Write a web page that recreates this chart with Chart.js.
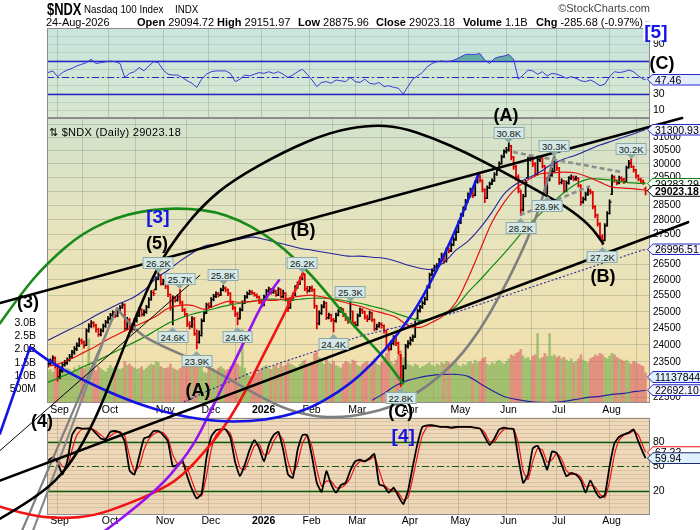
<!DOCTYPE html>
<html><head><meta charset="utf-8"><title>$NDX Nasdaq 100 Index</title>
<script src="https://cdn.jsdelivr.net/npm/chart.js@4.4.1/dist/chart.umd.min.js"></script>
<style>
html,body{margin:0;padding:0;background:#fff;}
#wrap{position:relative;width:700px;height:530px;overflow:hidden;font-family:"Liberation Sans",Arial,Helvetica,sans-serif;color:#000;}
#wrap canvas{position:absolute;left:0;top:0;}
#c1{z-index:1}#c3{z-index:1}#c2{z-index:2}
.t{position:absolute;white-space:nowrap;z-index:5;line-height:1;}
.ew{position:absolute;z-index:6;transform:translate(-50%,-50%);font-weight:bold;font-size:18px;line-height:1;white-space:nowrap;}
.co{position:absolute;z-index:6;transform:translate(-50%,-50%);font-size:9.5px;line-height:9px;padding:1px 2px 0 2px;background:#d6e8e6;border:1px solid #8eaaa8;color:#102020;white-space:nowrap;}
.co.a::after{content:"";position:absolute;left:50%;bottom:-5px;margin-left:-4px;border-left:4px solid transparent;border-right:4px solid transparent;border-top:4px solid #8eaaa8;}
.co.b::after{content:"";position:absolute;left:50%;top:-5px;margin-left:-4px;border-left:4px solid transparent;border-right:4px solid transparent;border-bottom:4px solid #8eaaa8;}
.vb{position:absolute;z-index:6;left:647px;width:60px;height:12px;transform:translateY(-50%);clip-path:polygon(0 50%,6px 0,100% 0,100% 100%,6px 100%);}
.vb span{position:absolute;left:1px;top:1px;right:0;bottom:1px;clip-path:polygon(0 50%,5px 0,100% 0,100% 100%,5px 100%);font-size:10.5px;line-height:10px;padding-left:7px;white-space:nowrap;}
</style></head>
<body>
<div id="wrap">
<canvas id="c1" width="700" height="530"></canvas>
<canvas id="c3" width="700" height="530"></canvas>
<canvas id="c2" width="700" height="530"></canvas>
<div class="t" style="left:47px;top:1px;font-size:17px;font-weight:bold;transform:scaleX(.76);transform-origin:0 0">$NDX</div>
<div class="t" style="left:84px;top:4px;font-size:11.5px;transform:scaleX(.85);transform-origin:0 0">Nasdaq 100 Index</div>
<div class="t" style="left:175px;top:4px;font-size:11.5px;transform:scaleX(.85);transform-origin:0 0">INDX</div>
<div class="t" style="right:50px;top:3px;font-size:11px;color:#444">©StockCharts.com</div>
<div class="t" style="left:46px;top:17px;font-size:11px">24-Aug-2026</div>
<div class="t" style="left:137px;top:17px;font-size:11px"><b>Open</b> 29094.72</div>
<div class="t" style="left:217px;top:17px;font-size:11px"><b>High</b> 29151.97</div>
<div class="t" style="left:298px;top:17px;font-size:11px"><b>Low</b> 28875.96</div>
<div class="t" style="left:376px;top:17px;font-size:11px"><b>Close</b> 29023.18</div>
<div class="t" style="left:463px;top:17px;font-size:11px"><b>Volume</b> 1.1B</div>
<div class="t" style="left:536px;top:17px;font-size:11px"><b>Chg</b> -285.68 (-0.97%)</div>
<div class="t" style="left:643px;top:20px;font-size:8px;color:#d01010">▼</div>
<div class="t" style="left:49px;top:127px;font-size:11px;letter-spacing:.3px">⇅ $NDX (Daily) 29023.18</div>
</div>
<script>
// ---------------- DATA ----------------
const opens=[
23400,23450,23520,23610,23380,23080,23240,23420,23480,23560,
23650,23780,23880,23990,24130,24080,23990,24420,24560,24660,
24590,24460,24310,24420,24560,24680,24790,24890,24960,24880,
25010,25130,25210,24480,24760,24590,24470,24720,24880,25060,
24920,24990,25140,25380,25600,25700,26030,26150,25880,25960,
25790,25540,25130,25440,25360,25470,25290,25060,24920,24620,
24560,24780,24330,24080,24280,24720,24960,25210,25160,25380,
25480,25560,25520,25680,25740,25690,25580,25280,25120,24920,
24790,25060,25280,25450,25560,25620,25580,25520,25460,25300,
25260,25460,25640,25710,25600,25660,25520,25700,25470,25580,
25390,25120,25380,25520,25760,25880,26030,26180,25720,25660,
25740,25690,25180,24640,24950,25160,25270,24820,24900,24760,
24720,24900,25010,25080,24900,24790,24700,25010,24660,24600,
24880,25060,25000,24830,24780,24960,24760,24480,24560,24620,
24580,24420,23930,23880,24050,24220,24050,23700,22980,23320,
23960,24050,24150,24230,24800,25020,25140,25260,25380,25760,
26160,26300,26420,26470,26640,26800,26600,26990,26950,27150,
27320,27580,27900,28150,28380,28660,28850,29020,28860,29320,
29560,29400,29060,28760,29130,29270,29380,29610,29780,30010,
30260,30460,30520,30680,30250,29900,29520,29000,28350,28820,
29500,30180,30220,30000,29620,30160,30220,29920,29150,29420,
29580,29720,30050,29850,29320,29360,29010,29300,29470,29510,
29450,29470,29210,28620,28720,28900,29020,28980,28460,28160,
27860,27420,27300,27800,28220,28900,29520,29400,29300,29480,
29420,29350,29860,30050,29900,29780,29560,29440,29360,29094.72];
const highs=[
23540,23590,23680,23650,23400,23300,23480,23550,23620,23720,
23840,23950,24060,24200,24180,24120,24480,24640,24730,24700,
24620,24500,24480,24620,24740,24850,24950,25030,25010,25070,
25190,25270,25250,24830,24800,24650,24790,24950,25120,25100,
25060,25200,25440,25660,25680,26100,26240,26170,26030,25990,
25820,25560,25500,25480,25530,25700,25330,25100,24950,24700,
24850,24830,24450,24420,24780,25020,25270,25280,25440,25540,
25620,25610,25740,25830,25780,25720,25600,25330,25160,24980,
25120,25340,25510,25620,25680,25660,25610,25560,25490,25400,
25520,25700,25770,25730,25720,25680,25760,25720,25680,25600,
25420,25440,25580,25820,25940,26090,26230,26200,25800,25800,
25810,25720,25200,25030,25220,25330,25290,24960,24930,24800,
24960,25070,25140,25100,24950,24830,25300,25030,24700,24940,
25120,25100,25030,24900,25020,24990,24780,24620,24680,24660,
24600,24450,24020,24120,24280,24240,24080,23720,23400,24020,
24130,24230,24300,24720,25080,25200,25330,25460,25820,26220,
26360,26480,26530,26700,26880,26830,27050,27040,27220,27400,
27650,27960,28220,28450,28720,28950,29120,29050,29380,29620,
29600,29420,29100,29200,29340,29450,29680,29850,30080,30330,
30530,30620,30800,30700,30280,29950,29600,29050,28900,29400,
30250,30300,30250,30050,30230,30290,30240,29950,29500,29660,
29850,30300,30080,29870,29450,29400,29380,29540,29600,29560,
29550,29500,29250,28800,28980,29120,29080,29000,28500,28200,
27900,27500,27870,28290,28700,29600,29560,29420,29550,29530,
29470,29920,30130,30200,29930,29800,29600,29480,29420,29151.97];
const lows=[
23350,23410,23480,23330,22950,23020,23200,23380,23430,23520,
23610,23720,23830,23950,24020,23900,23980,24380,24520,24530,
24380,24250,24270,24390,24520,24640,24740,24840,24820,24850,
24970,25100,24420,24450,24500,24380,24440,24680,24850,24860,
24870,24950,25120,25350,25500,25680,26000,25830,25840,25720,
25470,25050,24600,25300,25330,25230,25000,24850,24550,24480,
24520,24280,23880,24050,24260,24700,24940,25100,25130,25340,
25440,25460,25500,25650,25620,25500,25220,25060,24860,24600,
24770,25030,25250,25420,25530,25540,25480,25420,25250,25130,
25180,25430,25600,25550,25570,25480,25500,25420,25440,25330,
25000,25100,25350,25500,25730,25850,26000,25660,25580,25620,
25630,25100,24480,24600,24920,25120,24760,24780,24700,24390,
24680,24870,24980,24850,24730,24640,24680,24600,24520,24570,
24850,24940,24770,24700,24750,24700,24420,24450,24520,24500,
24350,23850,23820,23850,24000,23980,23720,22800,22900,23300,
23900,23990,24100,24220,24780,24990,25100,25220,25360,25740,
26130,26280,26380,26440,26600,26540,26580,26880,26920,27120,
27300,27560,27870,28120,28350,28620,28800,28780,28840,29300,
29330,28980,28600,28740,29100,29240,29360,29580,29760,29990,
30230,30400,30480,30150,29800,29400,28950,28150,28300,28800,
29480,30100,29900,29550,29600,30080,29850,28950,28900,29380,
29540,29700,29750,29250,29270,28950,28980,29260,29420,29380,
29400,29150,28500,28580,28680,28860,28900,28380,28080,27780,
27350,27150,27280,27780,28200,28880,29320,29230,29270,29360,
29280,29330,29840,29860,29700,29480,29380,29300,29250,28875.96];
const closes=[
23450,23520,23610,23380,23080,23240,23420,23480,23560,23650,
23780,23880,23990,24130,24080,23990,24420,24560,24660,24590,
24460,24310,24420,24560,24680,24790,24890,24960,24880,25010,
25130,25210,24480,24760,24590,24470,24720,24880,25060,24920,
24990,25140,25380,25600,25560,26030,26150,25880,25960,25790,
25540,25130,25440,25360,25470,25290,25060,24920,24620,24560,
24780,24330,24080,24280,24720,24960,25210,25160,25380,25480,
25560,25520,25680,25740,25690,25580,25280,25120,24920,24790,
25060,25280,25450,25560,25620,25580,25520,25460,25300,25260,
25460,25640,25710,25600,25660,25520,25700,25470,25580,25390,
25120,25380,25520,25760,25880,26030,26180,25720,25660,25740,
25690,25180,24640,24950,25160,25270,24820,24900,24760,24720,
24900,25010,25080,24900,24790,24700,25010,24660,24600,24880,
25060,25000,24830,24780,24960,24760,24480,24560,24620,24580,
24420,23930,23880,24050,24220,24050,23790,22980,23320,23960,
24050,24150,24230,24650,25020,25140,25260,25380,25760,26160,
26300,26420,26470,26640,26800,26600,26990,26950,27150,27320,
27580,27900,28150,28380,28660,28850,29020,28860,29320,29560,
29400,29060,28760,29130,29270,29380,29610,29780,30010,30260,
30460,30520,30680,30250,29900,29520,29100,28350,28820,29320,
30180,30220,30000,29620,30160,30220,29920,29150,29420,29580,
29720,30050,29850,29320,29360,29010,29300,29470,29510,29450,
29470,29210,28620,28720,28900,29020,28980,28460,28160,27860,
27420,27300,27800,28220,28620,29520,29400,29300,29480,29420,
29350,29860,30020,29900,29780,29560,29440,29360,29309,29023.18];
const volumesB=[
1.20,1.25,1.15,1.30,1.45,1.35,1.28,1.22,1.30,1.25,
1.18,1.32,1.25,1.40,1.30,1.28,1.35,2.40,1.30,1.25,
1.20,1.35,1.28,1.22,1.15,1.30,1.40,1.30,1.35,1.28,
1.25,1.30,1.55,1.40,1.45,1.35,1.30,1.25,1.28,1.35,
1.22,1.30,1.38,1.45,1.40,1.55,1.50,1.35,1.30,1.28,
1.32,1.45,1.30,1.25,1.20,1.28,1.35,1.40,1.55,1.50,
1.45,1.55,1.65,1.40,1.35,1.15,1.10,1.25,1.30,1.28,
1.22,1.30,1.35,1.28,1.20,1.25,1.35,1.40,1.50,1.45,
1.35,2.75,1.30,1.10,1.00,0.95,1.05,1.10,1.20,1.30,
1.35,1.40,1.30,1.25,1.35,1.40,1.30,1.45,1.35,1.40,
1.50,1.45,1.40,1.35,1.30,1.45,1.55,1.60,1.45,1.40,
1.50,1.85,1.95,1.70,1.55,1.45,1.65,1.50,1.45,1.55,
1.40,1.35,1.30,1.45,1.55,1.50,1.45,1.60,1.55,1.40,
1.35,1.45,1.50,1.55,1.40,1.55,1.65,1.45,1.40,1.50,
1.60,1.85,1.95,1.55,1.45,1.60,1.75,1.95,1.70,1.60,
1.45,1.40,1.35,1.45,1.40,1.30,1.35,1.40,1.45,1.50,
1.40,1.35,1.45,1.40,1.50,1.45,1.55,1.50,1.40,1.45,
1.50,1.40,1.35,1.45,1.40,1.50,1.55,1.45,1.60,1.50,
1.55,1.65,1.70,1.45,1.40,1.50,1.45,1.55,1.60,1.50,
1.45,1.55,1.65,1.80,1.75,1.85,1.90,2.00,1.75,1.65,
1.70,1.60,1.75,1.80,2.60,1.65,1.70,1.85,1.75,2.60,
1.75,1.80,1.70,1.75,1.65,1.70,1.60,1.55,1.65,1.50,
1.55,1.65,1.80,1.60,1.55,1.50,1.65,1.70,1.80,1.75,
1.85,1.80,1.70,1.65,1.75,1.85,1.80,1.70,1.65,1.60,
1.55,1.60,1.50,1.45,1.55,1.50,1.45,1.40,1.35,1.1137844];

// moving averages / bands (sampled every 5 trading days)
const maIdx=[0,5,10,15,20,25,30,35,40,45,50,55,60,65,70,75,80,85,90,95,100,105,110,115,120,125,130,135,140,145,150,155,160,165,170,175,180,185,190,195,200,205,210,215,220,225,230,235,240,245,249];
const sma20=[23370,23460,23605,23780,23960,24170,24345,24525,24680,24860,25110,25200,25200,25080,25200,25325,25295,25325,25357,25357,25420,25485,25515,25450,25357,25265,25170,25046,24950,24830,24585,24525,24680,24890,25295,26055,26972,27920,28600,29110,29408,29630,29665,29700,29665,29520,29335,29155,29120,29085,29047.5];
const sma50=[22915,23060,23200,23372,23517,23695,23870,24045,24225,24435,24645,24800,24925,25015,25110,25200,25265,25325,25390,25390,25357,25390,25420,25420,25390,25325,25265,25170,25078,24950,24830,24738,24800,24950,25170,25608,26000,26430,26860,27325,27805,28200,28580,28960,29270,29445,29445,29408,29335,29300,29283.29];
const bbUpper=[24135,24315,24495,24680,24890,25078,25265,25420,25672,26055,26314,26610,26870,27105,27170,27275,27340,27410,27340,27240,27140,27040,26972,26905,26840,26775,26775,26740,26705,26610,26478,26380,26347,26575,26972,27275,27715,28268,28905,29265,29480,29700,29995,30180,30330,30517,30705,30860,31010,31165,31300.93];
const bbMidIdx=[55,60,65,70,75,80,85,90,95,100,105,110,115,120,125,130,135,140,145,150,155,160,165,170,175,180,185,190,195,200,205,210,215,220,225,230,235,240,245,249];
const bbMid=[22330,22467,22635,22775,22915,23055,23200,23315,23430,23546,23662,23780,23898,24017,24135,24255,24345,24435,24525,24615,24708,24800,24890,24985,25110,25235,25357,25485,25610,25735,25862,25991,26120,26250,26380,26510,26641,26775,26905,26996.51];
const bbLowIdx=[135,140,145,150,155,160,165,170,175,180,185,190,195,200,205,210,215,220,225,230,235,240,245,249];
const bbLower=[22412,22607,22830,22972,23057,23115,23143,23143,23086,22886,22690,22523,22440,22385,22357,22357,22385,22440,22495,22523,22579,22607,22662,22692.10];

// RSI(14) and slow stochastic, read every 2nd session (last value = last session)
const rsiVals=[56,58,51,56,59,61,64,66,68,72,67,68,69,70,69,67,50,55,57,62,58,64,69,68,59,54,53,53,50,46,43,38,48,54,57,58,58,58,55,45,48,53,52,54,56,55,57,55,57,54,50,53,57,60,54,47,39,44,45,43,47,46,45,50,45,44,48,43,42,44,39,40,38,37,30,39,48,52,56,63,67,69,70,69,70,72,75,78,78,78,79,71,67,73,75,76,78,72,48,53,59,58,54,57,52,55,54,52,49,51,49,46,45,47,44,40,42,51,57,56,57,59,57,52,48,47.46];
const stochK=[57,61,55,40,56,88,97,96,96,96,90,84,83,92,93,91,80,45,40,62,84,86,93,93,88,80,50,52,57,38,22,11,17,60,86,94,95,95,85,55,38,52,70,82,72,56,76,88,92,70,40,36,70,88,88,62,30,19,44,28,18,27,30,45,56,58,56,60,65,28,26,18,24,14,4,20,50,78,98,100,100,99,98,98,97,98,98,98,98,97,96,86,76,84,95,97,96,95,60,30,40,72,75,62,46,68,66,52,38,42,40,33,18,33,20,12,15,50,78,86,89,91,95,80,66,59.94];
const stochD=[55,58,58,50,48,70,88,95,96,96,93,88,84,87,91,92,87,62,44,50,70,83,89,92,91,84,64,53,54,48,32,17,14,38,70,88,94,95,90,70,48,46,60,75,77,64,66,80,89,82,56,40,54,78,87,74,46,26,32,32,24,24,28,36,50,56,57,58,62,45,28,22,21,18,9,12,36,64,88,98,99,99,98,98,97,97,98,98,98,97,96,91,80,80,89,95,96,96,78,44,34,56,72,70,55,58,66,59,45,40,41,37,25,27,25,16,12,32,64,82,88,90,93,88,74,67.22];
const rsiLevels=[70,50,30];
const stochLevels=[80,50,20];

// axis ticks
const monthIdx=[4,25,48,67,89,109,128,150,171,191,212,234];
const monthLbl=['Sep','Oct','Nov','Dec','2026','Feb','Mar','Apr','May','Jun','Jul','Aug'];
const priceTicks=[22500,23000,23500,24000,24500,25000,25500,26000,26500,27000,27500,28000,28500,29000,29500,30000,30500,31000,31500];
const priceLbl=[22500,23000,23500,24000,24500,25000,25500,26000,26500,27000,27500,28000,28500,29000,29500,30000,30500,31000];
const volTicks=[0.5e9,1.0e9,1.5e9,2.0e9,2.5e9,3.0e9];
const volTickLbl=['500M','1.0B','1.5B','2.0B','2.5B','3.0B'];
const rsiTicks=[10,20,30,40,50,60,70,80,90,100];
const rsiLbl=[10,30,90];
const stochTicks=[0,5,10,15,20,25,30,35,40,45,50,55,60,65,70,75,80,85,90,95,100,105];
const stochLbl=[20,50,80];

// peak / trough callouts  (session index, text, a=above high / b=below low)
const calloutIdx=[46,55,52,62,73,79,106,126,119,147,192,211,197,208,231,243];
const calloutTxt=['26.2K','25.7K','24.6K','23.9K','25.8K','24.6K','26.2K','25.3K','24.4K','22.8K','30.8K','30.3K','28.2K','28.9K','27.2K','30.2K'];
const calloutPos=['a','a','b','b','a','b','a','a','b','b','a','a','b','b','b','a'];

// Elliott wave labels (session index, price)
const waveTxt=['(3)','(4)','(5)','[3]','(A)','(B)','(C)','[4]','(A)','(B)','[5]','(C)'];
const waveIdx=[-8.3,-2.5,45.4,45.8,62.5,106.25,147,148,190.8,231.25,253.3,255.8];
const wavePrice=[25294,21863,27206,28128,22688,27646,22108,21489,31866,26119,35350,33979];
const waveBlue=[false,false,false,true,false,false,false,true,false,false,true,false];

// drawn trend lines and arcs, as [session index, price]
const trendUpper=[[-20,25272],[264.2,31748]];
const trendLower=[[-20,20301],[266.7,27921]];
const trendThin=[[-20,21068],[63.3,26151]];
const dash1=[[193.75,30442],[239.2,29699]];
const dash2=[[196.7,28163],[225.8,29190]];
const grayLine1=[[-10.83,19085],[28.75,25107]];
const grayLine2=[[-6.25,19085],[26.67,24799]];
const blueLeg=[[-20,21515],[-7.5,23926]];
const blueArc=[[-7.5,23926],[-0.42,23545],[14.58,22970],[35.42,22355],[53.75,21998],[70.42,21836],[84.17,21836],[96.67,21944],[110.42,22217],[124.58,22801],[135.42,23458],[145.42,24283],[153.75,25138],[162.08,26313],[170.42,27749],[179.58,29663]];
const redArc=[[-20,19660],[-7.5,19443],[6.25,19371],[19.58,19443],[32.5,19709],[44.58,20003],[55.42,20377],[68.33,21251],[75.83,21917],[82.5,22688],[89.17,23633],[97.92,24829],[106.25,26216]];
const purpleArc=[[23.75,19085],[42.5,19880],[59.17,21016],[68.33,22190],[80,23838],[89.17,25262],[96.25,25990]];
const greenArc=[[-20,24646],[-10.83,25608],[-0.42,26542],[14.58,27578],[32.92,28233],[53.75,28443],[74.58,28233],[94.58,27307],[109.17,26216],[118.75,25356],[127.08,24585],[138.33,23779],[147.92,22885]];
const domeArc=[[-20,19371],[-3.33,19929],[9.17,20682],[19.58,21863],[27.92,23256],[36.25,24799],[45.83,26476],[55,27578],[65.42,28584],[77.08,29407],[97.92,30442],[117.5,31204],[134.17,31475],[146.67,31397],[160.42,30973],[174.58,30405],[188.33,29773],[202.08,29118],[216.25,28443],[225.83,27817],[231.25,27206]];
const grayArc=[[28.75,25107],[36.25,24404],[46.67,23985],[63.33,23487],[80,22829],[96.67,22217],[110.42,21971],[121.67,21944],[131.25,22025],[145.42,22272],[159.17,22857],[170.42,23545],[180,24434],[188.33,25513],[195.42,26574],[203.75,28094],[210.83,30255]];

// ---------------- LAYOUT / STYLE ----------------
const X_MIN=-0.4167, X_MAX=250.833;
const Y_MIN=22354, Y_MAX=31748, VOL_MAX=10.72e9;
const GRID='rgba(120,135,115,0.33)';
const FONT='"Liberation Sans", Arial, Helvetica, sans-serif';
Chart.defaults.font.family=FONT;
Chart.defaults.color='#000';

const up=closes.map((c,i)=> i===0 ? c>=opens[0] : c>=closes[i-1]);
const barCol=up.map(u=>u?'#000000':'#e00000');
const volCol=up.map(u=>u?'rgba(118,172,78,0.62)':'rgba(214,86,92,0.55)');
const pts=(idx,vals)=>vals.map((v,k)=>({x:idx[k],y:v}));
const stepIdx=n=>Array.from({length:n},(_,k)=>k<n-1?2*k:249);

function bgPlugin(stops){return{id:'bg',beforeDraw(ch){const{ctx,chartArea:a}=ch;const g=ctx.createLinearGradient(0,a.top,0,a.bottom);stops.forEach(s=>g.addColorStop(s[0],s[1]));ctx.save();ctx.fillStyle=g;ctx.fillRect(a.left,a.top,a.right-a.left,a.bottom-a.top);ctx.restore();}};}
const borderPlugin={id:'brd',afterDraw(ch){const{ctx,chartArea:a}=ch;ctx.save();ctx.strokeStyle='#8c8c8c';ctx.lineWidth=1;ctx.strokeRect(Math.round(a.left)+0.5,Math.round(a.top)+0.5,Math.round(a.right-a.left)-1,Math.round(a.bottom-a.top)-1);ctx.restore();}};
function levelPlugin(levels,color){return{id:'lv',beforeDatasetsDraw(ch){const{ctx,chartArea:a,scales:{y}}=ch;ctx.save();ctx.strokeStyle=color;levels.forEach((v,k)=>{const py=Math.round(y.getPixelForValue(v))+0.5;ctx.lineWidth=k===1?1.1:1.4;ctx.setLineDash(k===1?[7,3,2,3]:[]);ctx.beginPath();ctx.moveTo(a.left,py);ctx.lineTo(a.right,py);ctx.stroke();});ctx.restore();}};}

const annotations=[
 {data:grayArc,color:'#7f7f7f',width:2.6},
 {data:grayLine1,color:'#7f7f7f',width:2.2},
 {data:grayLine2,color:'#8a8a8a',width:2.2},
 {data:dash1,color:'#8e8e8e',width:2.6,dash:[5,3]},
 {data:dash2,color:'#8e8e8e',width:2.6,dash:[5,3]},
 {data:greenArc,color:'#178a17',width:2.6},
 {data:redArc,color:'#f21414',width:2.6},
 {data:purpleArc,color:'#9414f0',width:2.6},
 {data:blueLeg,color:'#1414e6',width:2.6},
 {data:blueArc,color:'#1414e6',width:2.6},
 {data:trendThin,color:'#000',width:1},
 {data:trendUpper,color:'#000',width:2.6},
 {data:trendLower,color:'#000',width:2.6},
 {data:domeArc,color:'#000',width:2.6}
];
const annPlugin={id:'ann',afterDraw(ch){const{ctx,scales:{x,y}}=ch;ctx.save();ctx.lineJoin='round';
 annotations.forEach(a=>{const p=a.data.map(([i,v])=>[x.getPixelForValue(i),y.getPixelForValue(v)]);ctx.strokeStyle=a.color;ctx.lineWidth=a.width;ctx.setLineDash(a.dash||[]);ctx.lineCap=a.dash?'butt':'round';ctx.beginPath();ctx.moveTo(p[0][0],p[0][1]);
  if(p.length<3){ctx.lineTo(p[1][0],p[1][1]);}else{for(let k=1;k<p.length-1;k++){const mx=(p[k][0]+p[k+1][0])/2,my=(p[k][1]+p[k+1][1])/2;ctx.quadraticCurveTo(p[k][0],p[k][1],mx,my);}ctx.lineTo(p[p.length-1][0],p[p.length-1][1]);}
  ctx.stroke();});ctx.restore();}};

function xAxis(showLabels,h){return{type:'linear',min:X_MIN,max:X_MAX,offset:false,
 afterBuildTicks:s=>{s.ticks=monthIdx.map(v=>({value:v}));},
 ticks:{display:showLabels,autoSkip:false,maxRotation:0,padding:1,labelOffset:2,callback:v=>monthLbl[monthIdx.indexOf(v)],
  font:c=>({family:FONT,size:10.5,weight:(c.tick&&c.tick.value===89)?'bold':'normal'})},
 grid:{color:GRID,drawTicks:false},border:{display:false},afterFit:s=>{s.height=h;}};}
const common={responsive:false,animation:false,events:[],plugins:{legend:{display:false},tooltip:{enabled:false}}};

// ---------------- RSI PANEL ----------------
const rsiChart=new Chart(document.getElementById('c1'),{type:'line',
 data:{datasets:[{data:pts(stepIdx(rsiVals.length),rsiVals),borderColor:'#3a3ad8',borderWidth:1,pointRadius:0,tension:0,
  fill:{target:{value:70},above:'rgba(78,158,148,0.8)',below:'rgba(0,0,0,0)'}}]},
 options:Object.assign({},common,{layout:{padding:{left:47,right:0,top:28,bottom:412}},
  scales:{x:xAxis(false,0),
   y:{position:'right',min:0.9,max:110,afterBuildTicks:s=>{s.ticks=rsiTicks.map(v=>({value:v}));},
    ticks:{autoSkip:false,padding:3,font:{size:10.5},callback:v=>rsiLbl.includes(v)?String(v):''},
    grid:{color:'rgba(120,140,130,0.25)',drawTicks:false},border:{display:false},afterFit:s=>{s.width=50;}}}}),
 plugins:[bgPlugin([[0,'#c9e5de'],[1,'#d8e7d0']]),levelPlugin(rsiLevels,'#2626cc'),borderPlugin]});

// ---------------- STOCHASTIC PANEL ----------------
const stoChart=new Chart(document.getElementById('c3'),{type:'line',
 data:{datasets:[
  {data:pts(stepIdx(stochK.length),stochK),borderColor:'#000',borderWidth:1.8,pointRadius:0,tension:0.15,order:1},
  {data:pts(stepIdx(stochD.length),stochD),borderColor:'#ee1111',borderWidth:1.2,pointRadius:0,tension:0.15,order:2}]},
 options:Object.assign({},common,{layout:{padding:{left:47,right:0,top:417.5,bottom:0}},
  scales:{x:xAxis(true,16),
   y:{position:'right',min:-8,max:109.45,afterBuildTicks:s=>{s.ticks=stochTicks.map(v=>({value:v}));},
    ticks:{autoSkip:false,padding:3,font:{size:10.5},callback:v=>stochLbl.includes(v)?String(v):''},
    grid:{color:'rgba(170,140,110,0.28)',drawTicks:false},border:{display:false},afterFit:s=>{s.width=50;}}}}),
 plugins:[bgPlugin([[0,'#eed9ba'],[1,'#ecd6b6']]),levelPlugin(stochLevels,'#0d5c0d'),borderPlugin]});

// ---------------- PRICE PANEL ----------------
const main=new Chart(document.getElementById('c2'),{type:'bar',
 data:{datasets:[
  {type:'line',data:pts(maIdx,sma20),yAxisID:'y',borderColor:'#e41010',borderWidth:1.2,pointRadius:0,tension:0.35,order:1},
  {type:'line',data:pts(maIdx,sma50),yAxisID:'y',borderColor:'#138a13',borderWidth:1.2,pointRadius:0,tension:0.35,order:1},
  {type:'line',data:pts(maIdx,bbUpper),yAxisID:'y',borderColor:'#24249e',borderWidth:1.1,pointRadius:0,tension:0.35,order:2},
  {type:'line',data:pts(bbMidIdx,bbMid),yAxisID:'y',borderColor:'#24249e',borderWidth:1.1,borderDash:[2,2],pointRadius:0,tension:0.35,order:2},
  {type:'line',data:pts(bbLowIdx,bbLower),yAxisID:'y',borderColor:'#24249e',borderWidth:1.1,pointRadius:0,tension:0.35,order:2},
  {type:'line',data:opens.map((v,i)=>({x:i-0.42,y:v})),yAxisID:'y',showLine:false,pointStyle:'line',pointRadius:1,pointBorderWidth:1.1,pointBorderColor:barCol,pointBackgroundColor:barCol,order:3},
  {type:'line',data:closes.map((v,i)=>({x:i+0.42,y:v})),yAxisID:'y',showLine:false,pointStyle:'line',pointRadius:1,pointBorderWidth:1.1,pointBorderColor:barCol,pointBackgroundColor:barCol,order:3},
  {type:'bar',data:highs.map((h,i)=>({x:i,y:[lows[i],h]})),yAxisID:'y',backgroundColor:barCol,barThickness:1.1,grouped:false,order:4},
  {type:'bar',data:volumesB.map((v,i)=>({x:i,y:v*1e9})),yAxisID:'yv',backgroundColor:volCol,barThickness:2,grouped:false,order:10}
 ]},
 options:Object.assign({},common,{layout:{padding:{left:0,right:0,top:118,bottom:112.5}},
  scales:{x:xAxis(true,15),
   y:{type:'logarithmic',position:'right',min:Y_MIN,max:Y_MAX,afterBuildTicks:s=>{s.ticks=priceTicks.map(v=>({value:v}));},
    ticks:{autoSkip:false,padding:3,font:{size:10},callback:v=>priceLbl.includes(v)?String(v):''},
    grid:{color:GRID,drawTicks:false},border:{display:false},afterFit:s=>{s.width=50;}},
   yv:{type:'linear',position:'left',min:0,max:VOL_MAX,afterBuildTicks:s=>{s.ticks=volTicks.map(v=>({value:v}));},
    ticks:{autoSkip:false,padding:3,font:{size:10.5},callback:v=>volTickLbl[volTicks.indexOf(v)]},
    grid:{display:false},border:{display:false},afterFit:s=>{s.width=47;}}}}),
 plugins:[bgPlugin([[0,'#d2e2cc'],[0.45,'#e9e4bc'],[1,'#f4dfa9']]),borderPlugin,annPlugin]});

// ---------------- TEXT OVERLAYS (anchored through the chart scales) ----------------
const wrap=document.getElementById('wrap');
function addDiv(cls,html,left,top,style){const d=document.createElement('div');d.className=cls;d.innerHTML=html;d.style.left=left+'px';d.style.top=top+'px';if(style)Object.assign(d.style,style);wrap.appendChild(d);return d;}
(function place(){
 const sx=main.scales.x, sy=main.scales.y, sv=main.scales.yv;
 waveTxt.forEach((t,k)=>{const st=waveBlue[k]?{color:'#1414e6',fontSize:'19px'}:null;if(t==='[5]')Object.assign(st,{background:'#fff',padding:'0 1px'});addDiv('ew',t,sx.getPixelForValue(waveIdx[k]),sy.getPixelForValue(wavePrice[k]),st);});
 calloutIdx.forEach((i,k)=>{const above=calloutPos[k]==='a';const py=sy.getPixelForValue(above?highs[i]:lows[i])+(above?-10:12);addDiv('co '+calloutPos[k],calloutTxt[k],sx.getPixelForValue(i),py);});
 function vbox(text,top,border,fill,bold){const d=document.createElement('div');d.className='vb';d.style.top=top+'px';d.style.background=border;const s=document.createElement('span');s.textContent=text;s.style.background=fill;if(bold)s.style.fontWeight='bold';d.appendChild(s);wrap.appendChild(d);}
 const last=a=>a[a.length-1];
 vbox(last(rsiVals).toFixed(2),rsiChart.scales.y.getPixelForValue(last(rsiVals)),'#2828c8','#e4ecff');
 vbox(last(bbUpper).toFixed(2),sy.getPixelForValue(last(bbUpper)),'#2828c8','#f3f5ff');
 vbox(last(sma50).toFixed(2),sy.getPixelForValue(last(sma50)),'#128012','#f4fff4');
 vbox(last(closes).toFixed(2),sy.getPixelForValue(last(closes)),'#000','#fff',true);
 vbox(last(bbMid).toFixed(2),sy.getPixelForValue(last(bbMid)),'#2828c8','#f3f5ff');
 vbox(String(Math.round(last(volumesB)*1e9)),sv.getPixelForValue(last(volumesB)*1e9)+4,'#2828c8','#dff0ff');
 vbox(last(bbLower).toFixed(2),sy.getPixelForValue(last(bbLower)),'#2828c8','#f3f5ff');
 vbox(last(stochD).toFixed(2),stoChart.scales.y.getPixelForValue(last(stochD)),'#e01010','#fff');
 vbox(last(stochK).toFixed(2),stoChart.scales.y.getPixelForValue(last(stochK)),'#1a2a6a','#dff0ff');
})();
</script>
</body></html>
